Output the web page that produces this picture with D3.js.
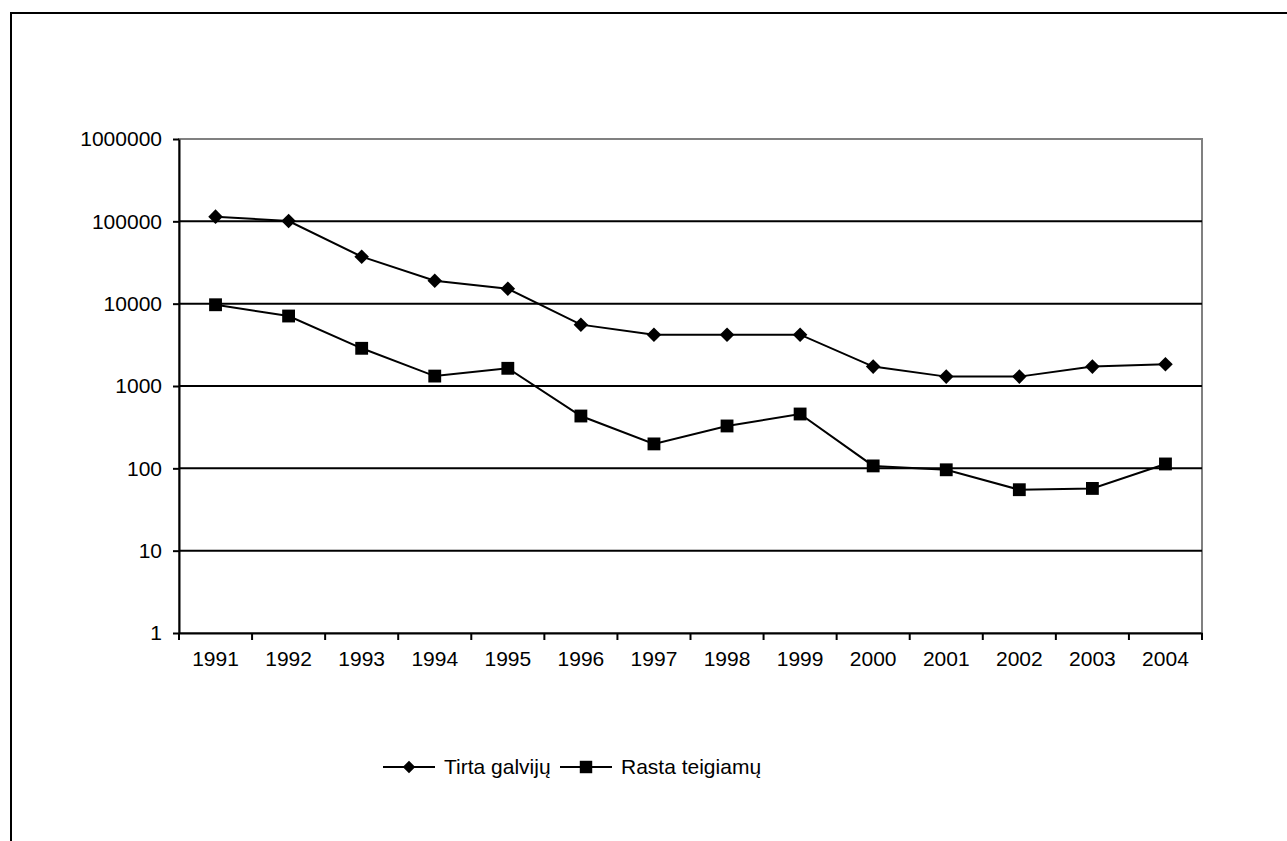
<!DOCTYPE html>
<html>
<head>
<meta charset="utf-8">
<script src="https://cdn.jsdelivr.net/npm/d3@7"></script>
<style>
  body { margin: 0; background: #fff; }
  svg text { font-family: "Liberation Sans", Arial, sans-serif; fill: #000; }
</style>
</head>
<body>
<div class="chart"></div>
<script>
// duomenys
const years = ["1991","1992","1993","1994","1995","1996","1997","1998","1999","2000","2001","2002","2003","2004"];
const tirta = [114000, 101000, 37200, 19000, 15200, 5560, 4200, 4200, 4200, 1720, 1300, 1300, 1720, 1840];
const rasta = [9700, 7080, 2870, 1320, 1640, 432, 198, 327, 457, 107, 96, 55, 57, 113];
const yTicks = [1, 10, 100, 1000, 10000, 100000, 1000000];
const seriesNames = ["Tirta galvijų", "Rasta teigiamų"];

const svg_width = 1287;
const svg_height = 841;
const margin = { top: 139, left: 179, right: 85, bottom: 208 };
const chart_width = 1202 - margin.left;
const chart_height = 633 - margin.top;

const svg = d3.select(".chart").append("svg")
    .attr("width", svg_width)
    .attr("height", svg_height);

// išorinis rėmelis
svg.append("rect")
    .attr("x", 11).attr("y", 13)
    .attr("width", 1400).attr("height", 1000)
    .attr("fill", "none").attr("stroke", "#000").attr("stroke-width", 2);

const g = svg.append("g").attr("transform", `translate(${margin.left},${margin.top})`);

const xScale = d3.scaleBand().domain(years).range([0, chart_width]);
const yScale = d3.scaleLog().domain([1, 1000000]).range([chart_height, 0]);

// plot area border (gray)
g.append("rect")
    .attr("x", 0).attr("y", 0)
    .attr("width", chart_width).attr("height", chart_height)
    .attr("fill", "none").attr("stroke", "#808080").attr("stroke-width", 2);

// grid lines
g.append("g").selectAll("line")
    .data(yTicks.filter(d => d > 1 && d < 1000000))
    .join("line")
    .attr("x1", 0).attr("x2", chart_width)
    .attr("y1", d => yScale(d)).attr("y2", d => yScale(d))
    .attr("stroke", "#000").attr("stroke-width", 2);

// y axis
const yAxis = d3.axisLeft(yScale)
    .tickValues(yTicks)
    .tickFormat(d3.format("d"))
    .tickSizeInner(6).tickSizeOuter(0).tickPadding(11);
const yAxisDraw = g.append("g").call(yAxis);
yAxisDraw.select(".domain").attr("stroke", "#000").attr("stroke-width", 2);
yAxisDraw.selectAll(".tick line").attr("stroke-width", 2);
yAxisDraw.selectAll("text").style("font-size", "21px");

// x axis: ticks between categories
const xAxis = d3.axisBottom(xScale).tickSize(0).tickPadding(18);
const xAxisDraw = g.append("g").attr("transform", `translate(0,${chart_height})`).call(xAxis);
xAxisDraw.select(".domain").attr("stroke", "#000").attr("stroke-width", 2);
xAxisDraw.selectAll("text").style("font-size", "21px");
xAxisDraw.selectAll(".sep")
    .data(d3.range(years.length + 1))
    .join("line")
    .attr("class", "sep")
    .attr("x1", i => i * xScale.bandwidth()).attr("x2", i => i * xScale.bandwidth())
    .attr("y1", 0).attr("y2", 7)
    .attr("stroke", "#000").attr("stroke-width", 2);

const cx = i => xScale(years[i]) + xScale.bandwidth() / 2;
const line = d3.line().x((d, i) => cx(i)).y(d => yScale(d));

const diamond = d3.symbol().type(d3.symbolDiamond2).size(135);
const square = d3.symbol().type(d3.symbolSquare).size(165);

function drawSeries(values, sym) {
    g.append("path")
        .datum(values)
        .attr("d", line)
        .attr("fill", "none").attr("stroke", "#000").attr("stroke-width", 2);
    g.append("g").selectAll("path")
        .data(values)
        .join("path")
        .attr("transform", (d, i) => `translate(${cx(i)},${yScale(d)})`)
        .attr("d", sym)
        .attr("fill", "#000");
}
drawSeries(tirta, diamond);
drawSeries(rasta, square);

// legend
const legend = svg.append("g").attr("transform", "translate(383,767)");
const legendItems = [
    { name: seriesNames[0], sym: d3.symbol().type(d3.symbolDiamond2).size(100), x: 0 },
    { name: seriesNames[1], sym: d3.symbol().type(d3.symbolSquare).size(155), x: 177 }
];
const li = legend.selectAll("g").data(legendItems).join("g")
    .attr("transform", d => `translate(${d.x},0)`);
li.append("line").attr("x1", 0).attr("x2", 52).attr("y1", 0).attr("y2", 0)
    .attr("stroke", "#000").attr("stroke-width", 2);
li.append("path").attr("transform", "translate(26,0)").attr("d", d => d.sym()).attr("fill", "#000");
li.append("text").attr("x", 61).attr("y", 7).style("font-size", "21px").text(d => d.name);
</script>
</body>
</html>
